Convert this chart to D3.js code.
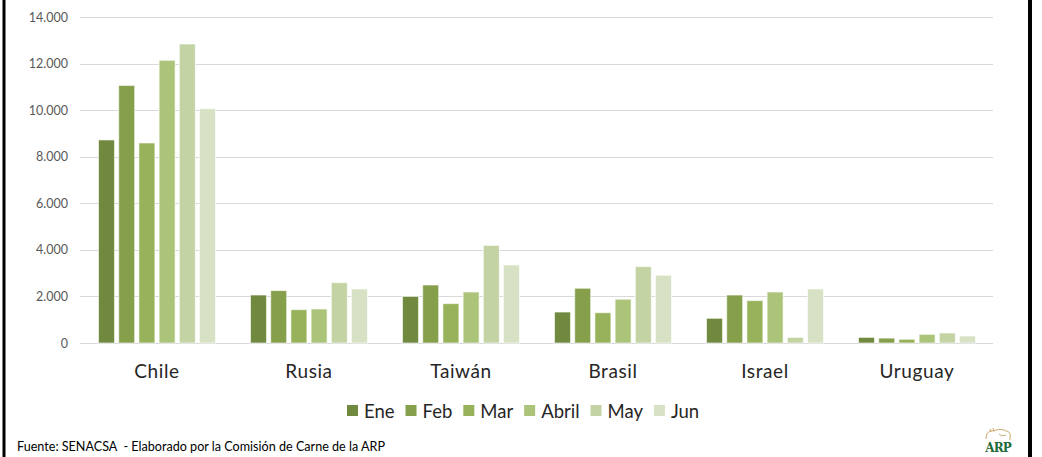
<!DOCTYPE html>
<html>
<head>
<meta charset="utf-8">
<script src="https://cdn.jsdelivr.net/npm/d3@7/dist/d3.min.js"></script>
<style>
  html, body { margin: 0; padding: 0; background: #fff; }
  svg { display: block; }
</style>
</head>
<body>
<svg id="chart" width="1042" height="457"></svg>
<script>
const categories = ["Chile", "Rusia", "Taiwán", "Brasil", "Israel", "Uruguay"];
const months = ["Ene", "Feb", "Mar", "Abril", "May", "Jun"];
const ene   = [8720, 2060, 2000, 1330, 1060, 240];
const feb   = [11060, 2250, 2490, 2350, 2060, 210];
const mar   = [8590, 1430, 1690, 1300, 1820, 160];
const abril = [12140, 1460, 2190, 1880, 2190, 370];
const may   = [12840, 2590, 4190, 3280, 240, 430];
const jun   = [10060, 2320, 3350, 2910, 2320, 300];
const yTicks = [0, 2000, 4000, 6000, 8000, 10000, 12000, 14000];
const tickLabels = ["0", "2.000", "4.000", "6.000", "8.000", "10.000", "12.000", "14.000"];
const colors = ["#71893F", "#869F4B", "#97B25A", "#ABC47A", "#C3D3A4", "#D7E2C5"];
const footer = "Fuente: SENACSA  - Elaborado por la Comisión de Carne de la ARP";

(function () {
const series = [ene, feb, mar, abril, may, jun];
const svg = d3.select("#chart");
const FONT = "Lato, 'Open Sans', sans-serif";

// frame bars
svg.append("rect").attr("x", 2.5).attr("y", 0).attr("width", 3).attr("height", 457).attr("fill", "#000");
svg.append("rect").attr("x", 1028).attr("y", 0).attr("width", 4).attr("height", 457).attr("fill", "#000");

const pLeft = 81, pRight = 993, pTop = 17, pBottom = 343;
const y = d3.scaleLinear().domain([0, 14000]).range([pBottom, pTop]);
const x0 = d3.scaleBand().domain(categories).range([pLeft, pRight]).padding(0);
const x1 = d3.scaleBand().domain(months).range([0, x0.bandwidth()]).paddingInner(0.21).paddingOuter(0.867);

// gridlines
svg.append("g").selectAll("line").data(yTicks).join("line")
  .attr("x1", pLeft - 1).attr("x2", pRight)
  .attr("y1", d => Math.round(y(d)) + 0.5).attr("y2", d => Math.round(y(d)) + 0.5)
  .attr("stroke", "#D9D9D9").attr("stroke-width", 1);

// y tick labels
svg.append("g").selectAll("text").data(yTicks).join("text")
  .attr("x", 68).attr("y", d => y(d)).attr("dy", "0.36em")
  .attr("text-anchor", "end")
  .attr("font-family", FONT).attr("font-size", 12.5).attr("fill", "#595959")
  .text((d, i) => tickLabels[i]);

// bars
const groups = svg.append("g").selectAll("g").data(categories).join("g")
  .attr("transform", d => `translate(${x0(d)},0)`);
groups.selectAll("rect")
  .data((c, ci) => months.map((m, mi) => ({ m, mi, v: series[mi][ci] })))
  .join("rect")
  .attr("x", d => x1(d.m))
  .attr("width", x1.bandwidth())
  .attr("y", d => y(d.v))
  .attr("height", d => y(0) - y(d.v))
  .attr("fill", d => colors[d.mi])
  .attr("stroke", "#ffffff").attr("stroke-opacity", 0.6).attr("stroke-width", 1);

// category labels
svg.append("g").selectAll("text").data(categories).join("text")
  .attr("x", d => x0(d) + x0.bandwidth() / 2).attr("y", 378)
  .attr("text-anchor", "middle")
  .attr("font-family", FONT).attr("font-size", 19).attr("fill", "#262626")
  .attr("letter-spacing", 0.6)
  .text(d => d);

// legend
const lg = svg.append("g");
let lx = 347;
months.forEach((m, i) => {
  lg.append("rect").attr("x", lx).attr("y", 405).attr("width", 11).attr("height", 11).attr("fill", colors[i]);
  const t = lg.append("text").attr("x", lx + 17).attr("y", 418)
    .attr("font-family", FONT).attr("font-size", 18.5).attr("fill", "#262626")
    .text(m);
  lx = lx + 17 + t.node().getComputedTextLength() + 11;
});

// footer
svg.append("text").attr("x", 17).attr("y", 451)
  .attr("font-family", FONT).attr("font-size", 12.6).attr("fill", "#000")
  .style("white-space", "pre")
  .text(footer);

// logo
const logo = svg.append("g");
logo.append("path")
  .attr("d", "M986,439 C986,433 989,430 994,431 C997,429 1003,429 1006,431 C1009,431 1011,434 1010,437 L1010,440 M994,431 L993,428 M991,432 L990,429 M999,434 C1001,436 1004,436 1006,435")
  .attr("fill", "none").attr("stroke", "#C9A86A").attr("stroke-width", 1);
logo.append("text").attr("x", 998).attr("y", 452).attr("text-anchor", "middle")
  .attr("font-family", "'DejaVu Serif', serif").attr("font-weight", "bold")
  .attr("font-size", 12).attr("fill", "#1F6B3A").attr("letter-spacing", -1)
  .text("ARP");
})();
</script>
</body>
</html>
